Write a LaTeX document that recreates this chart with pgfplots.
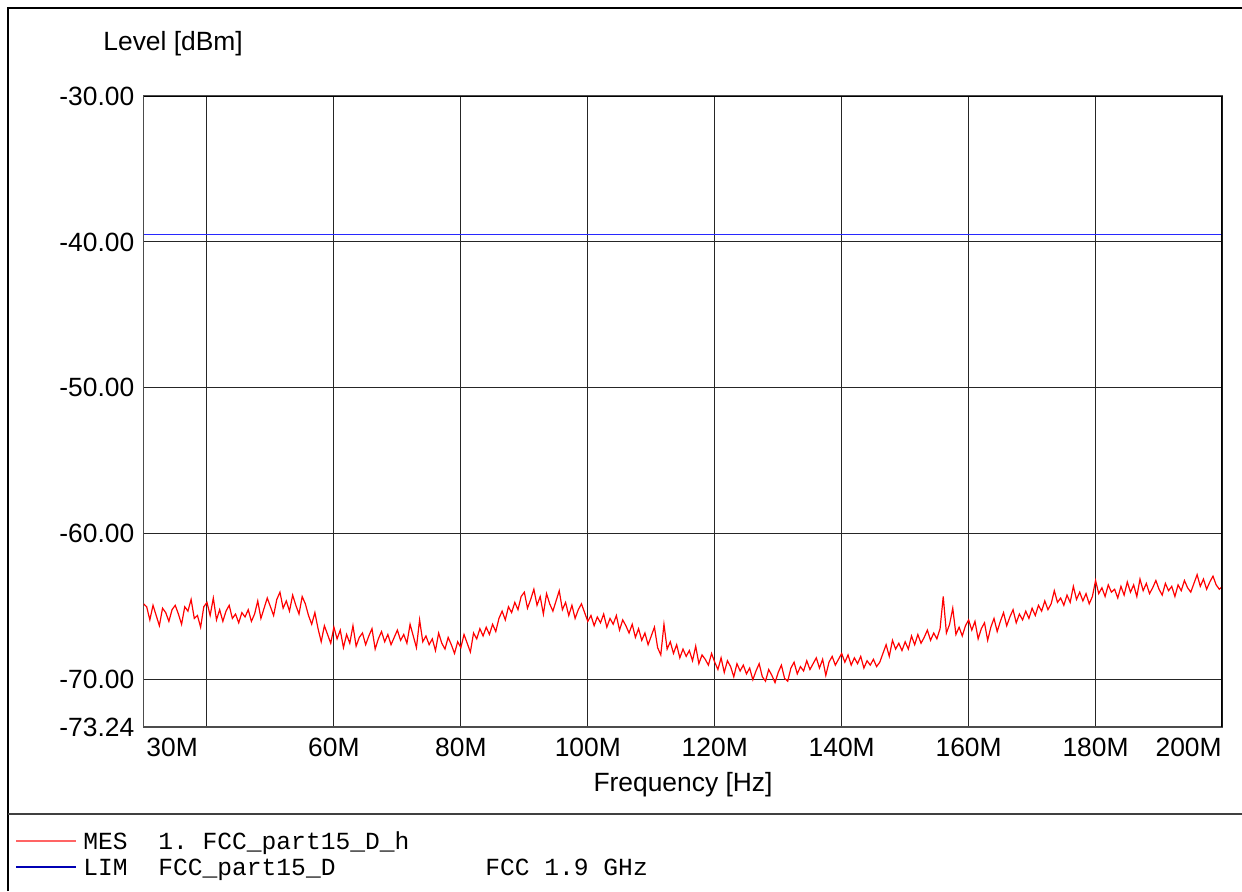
\documentclass[border=0pt]{standalone}
\usepackage{fontspec}
\setmainfont{Liberation Sans}
\setmonofont{Liberation Mono}
\usepackage{pgfplots}
\pgfplotsset{compat=1.18}
\definecolor{limblue}{RGB}{40,40,255}
\definecolor{legred}{RGB}{255,100,100}
\definecolor{legblue}{RGB}{0,0,180}
\begin{document}
\fontsize{13.2}{15.8}\selectfont
\begin{tikzpicture}
\useasboundingbox (0,0) rectangle (621pt,445.5pt);
\draw[line width=0.6pt] (4pt,0) -- (4pt,441.5pt) -- (621pt,441.5pt);
\draw[line width=0.6pt,black!75] (4pt,38.5pt) -- (621pt,38.5pt);
\begin{axis}[
  at={(71.75pt,82pt)}, anchor=south west,
  scale only axis, width=539.5pt, height=315.5pt,
  xmin=30, xmax=200, ymin=-73.24, ymax=-30,
  xtick={40,60,80,100,120,140,160,180},
  xticklabels={,60M,80M,100M,120M,140M,160M,180M},
  ytick={-73.24,-70,-60,-50,-40,-30},
  yticklabels={-73.24,-70.00,-60.00,-50.00,-40.00,-30.00},
  tick style={draw=none},
  xticklabel style={yshift=-1pt},
  grid=major,
  major grid style={black!85, line width=0.5pt},
  axis line style={black!70, line width=0.6pt},
  clip=true,
]
\addplot[limblue, line width=0.55pt] coordinates {(30,-39.52) (200,-39.52)};
\addplot[red, line width=0.6pt] coordinates {
(30.0,-64.8)(30.5,-65.0)(31.0,-65.9)(31.5,-64.9)(32.0,-65.6)(32.5,-66.3)(33.0,-65.1)(33.5,-65.4)(34.0,-66.0)(34.5,-65.2)
(35.0,-64.9)(35.5,-65.5)(36.0,-66.2)(36.5,-65.0)(37.0,-65.3)(37.5,-64.5)(38.0,-65.8)(38.5,-65.6)(39.0,-66.4)(39.5,-65.0)
(40.0,-64.7)(40.5,-65.6)(41.0,-64.4)(41.5,-65.9)(42.0,-65.2)(42.5,-66.0)(43.0,-65.3)(43.5,-64.9)(44.0,-65.8)(44.5,-65.5)
(45.0,-66.1)(45.5,-65.4)(46.0,-65.7)(46.5,-65.2)(47.0,-66.0)(47.5,-65.5)(48.0,-64.6)(48.5,-65.8)(49.0,-65.1)(49.5,-64.4)
(50.0,-65.0)(50.5,-65.6)(51.0,-64.5)(51.5,-64.0)(52.0,-65.1)(52.5,-64.6)(53.0,-65.3)(53.5,-64.2)(54.0,-64.9)(54.5,-65.5)
(55.0,-64.3)(55.5,-64.8)(56.0,-65.6)(56.5,-66.2)(57.0,-65.4)(57.5,-66.5)(58.0,-67.4)(58.5,-66.3)(59.0,-66.9)(59.5,-67.5)
(60.0,-66.4)(60.5,-67.2)(61.0,-66.6)(61.5,-67.8)(62.0,-66.9)(62.5,-67.5)(63.0,-66.3)(63.5,-67.7)(64.0,-67.1)(64.5,-66.8)
(65.0,-67.6)(65.5,-67.0)(66.0,-66.5)(66.5,-67.9)(67.0,-67.2)(67.5,-66.7)(68.0,-67.4)(68.5,-66.9)(69.0,-67.6)(69.5,-67.1)
(70.0,-66.6)(70.5,-67.3)(71.0,-66.9)(71.5,-67.5)(72.0,-66.2)(72.5,-67.0)(73.0,-67.8)(73.5,-65.9)(74.0,-67.4)(74.5,-67.0)
(75.0,-67.6)(75.5,-67.2)(76.0,-68.0)(76.5,-66.8)(77.0,-67.5)(77.5,-67.9)(78.0,-67.1)(78.5,-67.6)(79.0,-68.2)(79.5,-67.4)
(80.0,-67.8)(80.5,-66.9)(81.0,-67.5)(81.5,-68.1)(82.0,-66.8)(82.5,-67.2)(83.0,-66.5)(83.5,-67.0)(84.0,-66.4)(84.5,-66.9)
(85.0,-66.2)(85.5,-66.7)(86.0,-65.8)(86.5,-65.3)(87.0,-65.9)(87.5,-65.0)(88.0,-65.4)(88.5,-64.7)(89.0,-65.2)(89.5,-64.3)
(90.0,-64.0)(90.5,-65.1)(91.0,-64.5)(91.5,-63.8)(92.0,-64.9)(92.5,-64.3)(93.0,-65.5)(93.5,-64.1)(94.0,-64.8)(94.5,-65.3)
(95.0,-64.6)(95.5,-63.9)(96.0,-65.2)(96.5,-64.7)(97.0,-65.6)(97.5,-64.9)(98.0,-65.8)(98.5,-65.2)(99.0,-64.8)(99.5,-65.4)
(100.0,-66.0)(100.5,-65.6)(101.0,-66.3)(101.5,-65.7)(102.0,-66.1)(102.5,-65.5)(103.0,-66.4)(103.5,-65.8)(104.0,-66.2)(104.5,-65.6)
(105.0,-66.6)(105.5,-65.9)(106.0,-66.3)(106.5,-66.8)(107.0,-66.2)(107.5,-67.1)(108.0,-66.5)(108.5,-67.3)(109.0,-66.8)(109.5,-67.6)
(110.0,-67.0)(110.5,-66.4)(111.0,-67.8)(111.5,-68.3)(112.0,-66.2)(112.5,-67.9)(113.0,-67.4)(113.5,-68.2)(114.0,-67.6)(114.5,-68.5)
(115.0,-67.9)(115.5,-68.4)(116.0,-68.0)(116.5,-68.7)(117.0,-67.7)(117.5,-68.9)(118.0,-68.3)(118.5,-68.6)(119.0,-69.0)(119.5,-68.2)
(120.0,-68.8)(120.5,-69.3)(121.0,-68.5)(121.5,-69.5)(122.0,-68.7)(122.5,-69.1)(123.0,-69.8)(123.5,-68.9)(124.0,-69.4)(124.5,-69.0)
(125.0,-69.6)(125.5,-69.2)(126.0,-70.0)(126.5,-69.4)(127.0,-68.9)(127.5,-69.8)(128.0,-70.1)(128.5,-69.3)(129.0,-69.7)(129.5,-70.2)
(130.0,-69.5)(130.5,-69.0)(131.0,-69.9)(131.5,-70.1)(132.0,-69.2)(132.5,-68.8)(133.0,-69.6)(133.5,-69.1)(134.0,-69.4)(134.5,-68.7)
(135.0,-69.3)(135.5,-68.9)(136.0,-68.5)(136.5,-69.2)(137.0,-68.6)(137.5,-69.7)(138.0,-68.8)(138.5,-68.4)(139.0,-69.0)(139.5,-68.6)
(140.0,-68.2)(140.5,-68.8)(141.0,-68.3)(141.5,-69.0)(142.0,-68.5)(142.5,-68.9)(143.0,-68.4)(143.5,-69.2)(144.0,-68.7)(144.5,-69.0)
(145.0,-68.6)(145.5,-69.1)(146.0,-68.8)(146.5,-68.2)(147.0,-67.6)(147.5,-68.4)(148.0,-67.3)(148.5,-67.9)(149.0,-67.5)(149.5,-68.0)
(150.0,-67.4)(150.5,-67.9)(151.0,-67.0)(151.5,-67.6)(152.0,-66.9)(152.5,-67.5)(153.0,-67.1)(153.5,-66.6)(154.0,-67.3)(154.5,-66.8)
(155.0,-67.2)(155.5,-66.5)(156.0,-64.3)(156.5,-66.8)(157.0,-66.2)(157.5,-65.1)(158.0,-66.9)(158.5,-66.4)(159.0,-67.0)(159.5,-66.3)
(160.0,-65.9)(160.5,-66.6)(161.0,-66.0)(161.5,-67.2)(162.0,-66.5)(162.5,-66.1)(163.0,-67.3)(163.5,-66.4)(164.0,-65.8)(164.5,-66.7)
(165.0,-66.0)(165.5,-65.4)(166.0,-66.3)(166.5,-65.7)(167.0,-65.2)(167.5,-66.1)(168.0,-65.5)(168.5,-65.9)(169.0,-65.3)(169.5,-65.8)
(170.0,-65.1)(170.5,-65.6)(171.0,-64.9)(171.5,-65.3)(172.0,-64.6)(172.5,-65.2)(173.0,-64.8)(173.5,-63.9)(174.0,-64.7)(174.5,-64.4)
(175.0,-64.9)(175.5,-64.2)(176.0,-64.7)(176.5,-63.6)(177.0,-64.5)(177.5,-64.0)(178.0,-64.6)(178.5,-64.1)(179.0,-64.8)(179.5,-64.3)
(180.0,-63.2)(180.5,-64.1)(181.0,-63.7)(181.5,-64.3)(182.0,-63.5)(182.5,-64.0)(183.0,-63.8)(183.5,-64.4)(184.0,-63.6)(184.5,-64.2)
(185.0,-63.3)(185.5,-64.0)(186.0,-63.5)(186.5,-64.3)(187.0,-63.1)(187.5,-63.9)(188.0,-63.4)(188.5,-64.1)(189.0,-63.7)(189.5,-63.2)
(190.0,-63.8)(190.5,-64.2)(191.0,-63.4)(191.5,-63.9)(192.0,-63.6)(192.5,-64.3)(193.0,-63.5)(193.5,-63.9)(194.0,-63.2)(194.5,-63.7)
(195.0,-64.0)(195.5,-63.4)(196.0,-62.8)(196.5,-63.6)(197.0,-63.1)(197.5,-63.8)(198.0,-63.3)(198.5,-62.9)(199.0,-63.5)(199.5,-63.8)
(200.0,-63.6)
};
\draw[black, line width=1.2pt] (rel axis cs:1,0) -- (rel axis cs:1,1);
\draw[black, line width=0.6pt] (rel axis cs:0,1) -- (rel axis cs:1,1);
\end{axis}
\node[anchor=north west, inner xsep=0pt, inner ysep=0.333em] at (73pt,81pt) {30M};
\node[anchor=north east, inner xsep=0pt, inner ysep=0.333em] at (611pt,81pt) {200M};
\node[anchor=west, inner sep=0pt] at (51.5pt,423.5pt) {Level [dBm]};
\node[anchor=center, inner sep=0pt] at (341.5pt,53pt) {Frequency [Hz]};
\draw[legred, line width=0.6pt] (8pt,25pt) -- (38pt,25pt);
\draw[legblue, line width=0.6pt] (8pt,12pt) -- (38pt,12pt);
\begin{scope}[font=\ttfamily\fontsize{12.3}{14}\selectfont]
\node[anchor=base west, inner sep=0pt] at (41.5pt,21pt) {MES};
\node[anchor=base west, inner sep=0pt] at (79pt,21pt) {1. FCC\_part15\_D\_h};
\node[anchor=base west, inner sep=0pt] at (41.5pt,8pt) {LIM};
\node[anchor=base west, inner sep=0pt] at (79pt,8pt) {FCC\_part15\_D};
\node[anchor=base west, inner sep=0pt] at (242.5pt,8pt) {FCC 1.9 GHz};
\end{scope}
\end{tikzpicture}
\end{document}
